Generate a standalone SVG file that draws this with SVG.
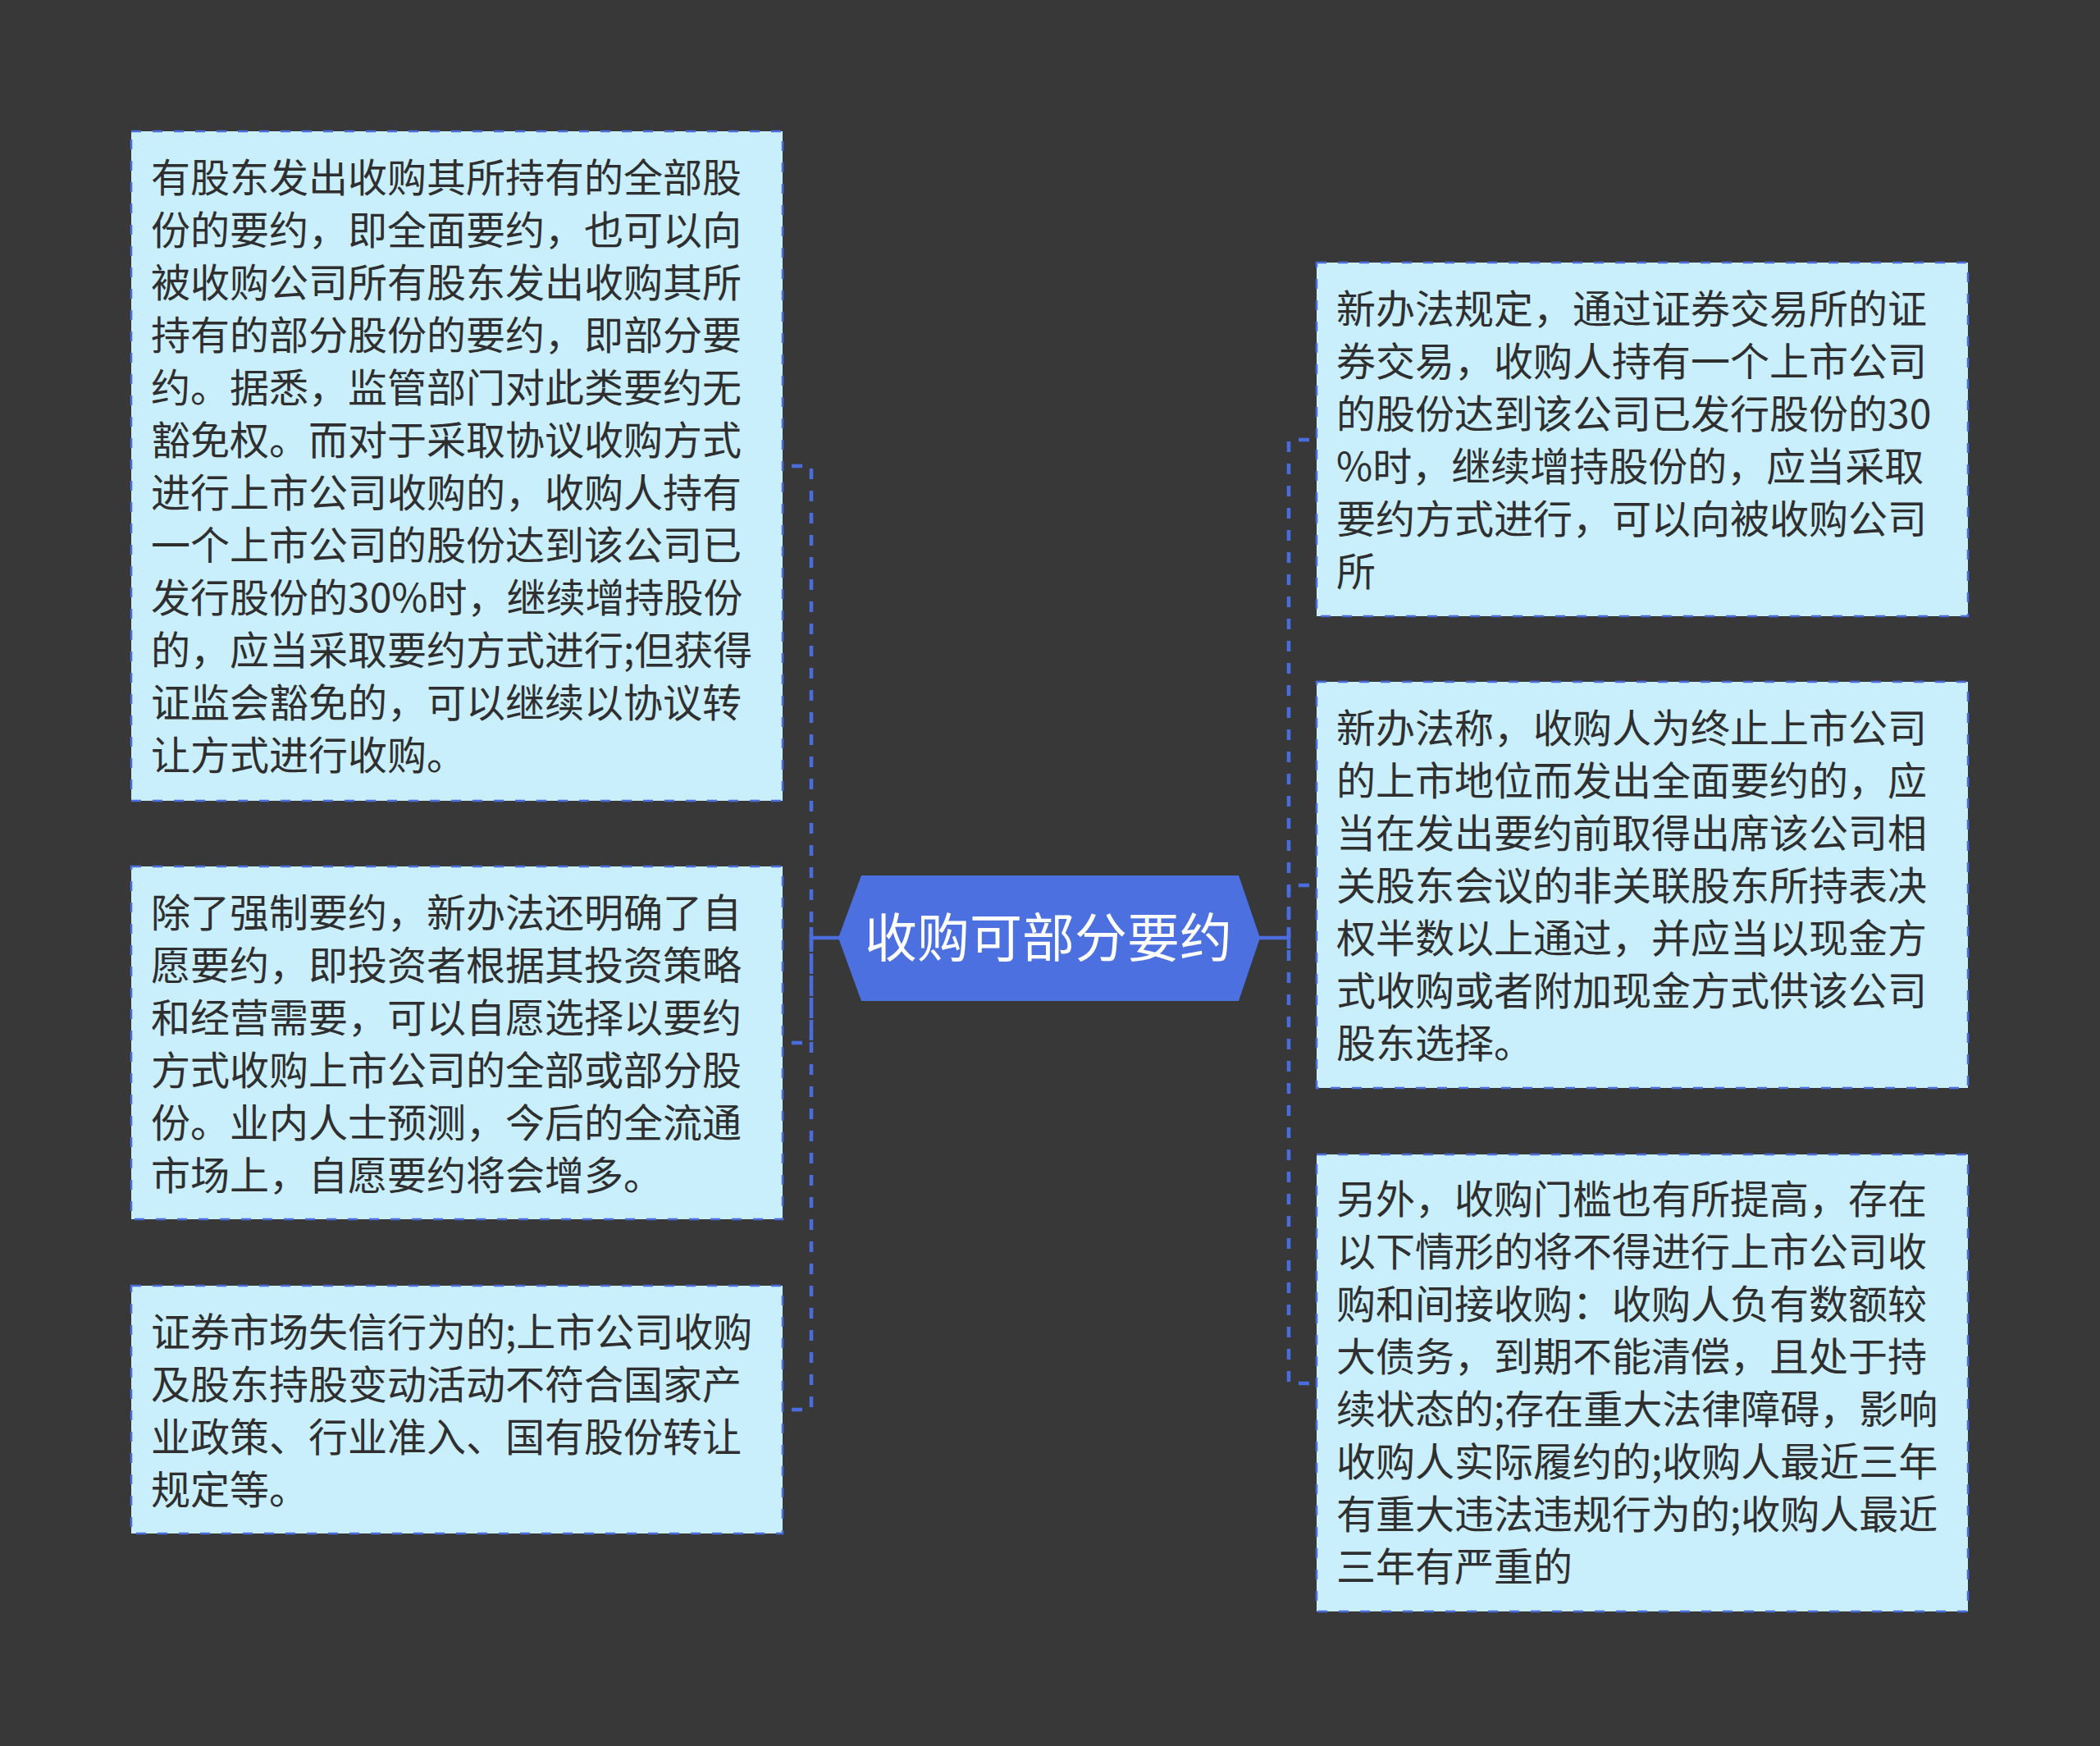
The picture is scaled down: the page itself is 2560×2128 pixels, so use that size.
<svg xmlns="http://www.w3.org/2000/svg" width="2560" height="2128" viewBox="0 0 2560 2128">
<defs>
<style>
.box{fill:#c9eefc;stroke:#4a6cdc;stroke-width:2.5;stroke-dasharray:12 14;}
.txt{font-family:"Noto Sans CJK SC","Noto Sans",sans-serif;font-size:48px;fill:#2f2f2f;}
.link{fill:none;stroke:#4a6cdc;stroke-width:4.5;stroke-dasharray:13 14;}
.solid{fill:none;stroke:#4a6cdc;stroke-width:4.5;}
.ctr{fill:#4d70e1;}
.ctxt{font-family:"Noto Sans CJK SC","Noto Sans",sans-serif;font-size:64px;fill:#ffffff;}
</style>
</defs>
<rect x="0" y="0" width="2560" height="2128" fill="#383838"/>
<g id="connectors">
<path class="link" d="M965 568 H989 V1143"/>
<path class="link" d="M965 1271 H989 V1143"/>
<path class="link" d="M965 1718 H989 V1143"/>
<path class="solid" d="M989 1143 H1024"/>
<path class="link" d="M1596 536 H1571 V1143"/>
<path class="link" d="M1596 1079 H1571 V1143"/>
<path class="link" d="M1596 1686 H1571 V1143"/>
<path class="solid" d="M1534 1143 H1571"/>
<path class="solid" d="M989 1130 V1156"/>
<path class="solid" d="M1571 1130 V1156"/>
</g>
<g id="center">
<polygon class="ctr" points="1022,1143 1050,1067 1510,1067 1536,1143 1510,1220 1050,1220"/>
<text class="ctxt" x="1278" y="1166" text-anchor="middle">收购可部分要约</text>
</g>
<g id="left1">
<rect class="box" x="160" y="160" width="794" height="816"/>
<text class="txt" x="184">
<tspan x="184" y="234">有股东发出收购其所持有的全部股</tspan>
<tspan x="184" y="298">份的要约，即全面要约，也可以向</tspan>
<tspan x="184" y="362">被收购公司所有股东发出收购其所</tspan>
<tspan x="184" y="426">持有的部分股份的要约，即部分要</tspan>
<tspan x="184" y="490">约。据悉，监管部门对此类要约无</tspan>
<tspan x="184" y="554">豁免权。而对于采取协议收购方式</tspan>
<tspan x="184" y="618">进行上市公司收购的，收购人持有</tspan>
<tspan x="184" y="682">一个上市公司的股份达到该公司已</tspan>
<tspan x="184" y="746">发行股份的30%时，继续增持股份</tspan>
<tspan x="184" y="810">的，应当采取要约方式进行;但获得</tspan>
<tspan x="184" y="874">证监会豁免的，可以继续以协议转</tspan>
<tspan x="184" y="938">让方式进行收购。</tspan>
</text>
</g>
<g id="left2">
<rect class="box" x="160" y="1056" width="794" height="430"/>
<text class="txt" x="184">
<tspan x="184" y="1130">除了强制要约，新办法还明确了自</tspan>
<tspan x="184" y="1194">愿要约，即投资者根据其投资策略</tspan>
<tspan x="184" y="1258">和经营需要，可以自愿选择以要约</tspan>
<tspan x="184" y="1322">方式收购上市公司的全部或部分股</tspan>
<tspan x="184" y="1386">份。业内人士预测，今后的全流通</tspan>
<tspan x="184" y="1450">市场上，自愿要约将会增多。</tspan>
</text>
</g>
<g id="left3">
<rect class="box" x="160" y="1567" width="794" height="302"/>
<text class="txt" x="184">
<tspan x="184" y="1641">证券市场失信行为的;上市公司收购</tspan>
<tspan x="184" y="1705">及股东持股变动活动不符合国家产</tspan>
<tspan x="184" y="1769">业政策、行业准入、国有股份转让</tspan>
<tspan x="184" y="1833">规定等。</tspan>
</text>
</g>
<g id="right1">
<rect class="box" x="1605" y="320" width="794" height="431"/>
<text class="txt" x="1629">
<tspan x="1629" y="394">新办法规定，通过证券交易所的证</tspan>
<tspan x="1629" y="458">券交易，收购人持有一个上市公司</tspan>
<tspan x="1629" y="522">的股份达到该公司已发行股份的30</tspan>
<tspan x="1629" y="586">%时，继续增持股份的，应当采取</tspan>
<tspan x="1629" y="650">要约方式进行，可以向被收购公司</tspan>
<tspan x="1629" y="714">所</tspan>
</text>
</g>
<g id="right2">
<rect class="box" x="1605" y="831" width="794" height="495"/>
<text class="txt" x="1629">
<tspan x="1629" y="905">新办法称，收购人为终止上市公司</tspan>
<tspan x="1629" y="969">的上市地位而发出全面要约的，应</tspan>
<tspan x="1629" y="1033">当在发出要约前取得出席该公司相</tspan>
<tspan x="1629" y="1097">关股东会议的非关联股东所持表决</tspan>
<tspan x="1629" y="1161">权半数以上通过，并应当以现金方</tspan>
<tspan x="1629" y="1225">式收购或者附加现金方式供该公司</tspan>
<tspan x="1629" y="1289">股东选择。</tspan>
</text>
</g>
<g id="right3">
<rect class="box" x="1605" y="1407" width="794" height="557"/>
<text class="txt" x="1629">
<tspan x="1629" y="1479">另外，收购门槛也有所提高，存在</tspan>
<tspan x="1629" y="1543">以下情形的将不得进行上市公司收</tspan>
<tspan x="1629" y="1607">购和间接收购：收购人负有数额较</tspan>
<tspan x="1629" y="1671">大债务，到期不能清偿，且处于持</tspan>
<tspan x="1629" y="1735">续状态的;存在重大法律障碍，影响</tspan>
<tspan x="1629" y="1799">收购人实际履约的;收购人最近三年</tspan>
<tspan x="1629" y="1863">有重大违法违规行为的;收购人最近</tspan>
<tspan x="1629" y="1927">三年有严重的</tspan>
</text>
</g>
</svg>
